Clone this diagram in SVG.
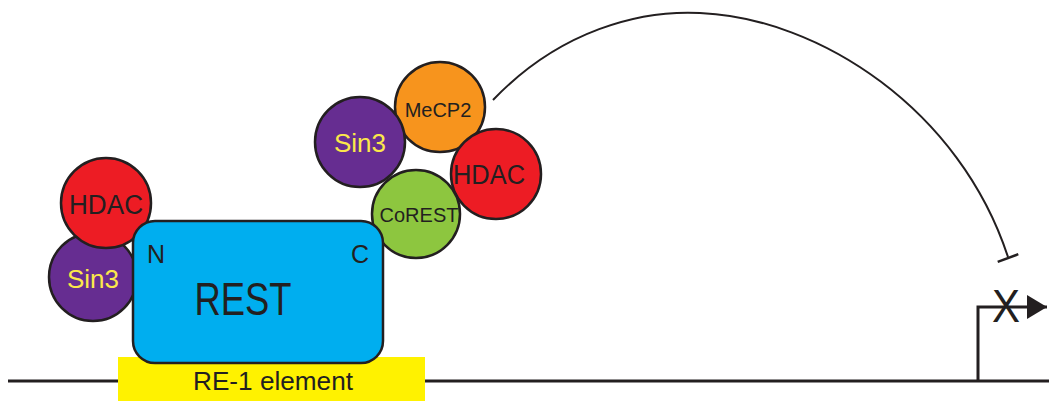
<svg xmlns="http://www.w3.org/2000/svg" width="1049" height="401" viewBox="0 0 1049 401">
<defs>
<style>
.o{stroke:#231F20;stroke-width:2.5}
.t{font-family:"Liberation Sans",Arial,sans-serif;text-anchor:middle;fill:#231F20}
.y{fill:#FBE84A}
.ln{fill:none;stroke:#231F20;stroke-width:3}
</style>
<marker id="ah" viewBox="0 0 20 24" refX="20" refY="12" markerWidth="20" markerHeight="24" markerUnits="userSpaceOnUse" orient="auto">
<path d="M0,0 L20,12 L0,24 Z" fill="#231F20"/>
</marker>
</defs>
<rect width="1049" height="401" fill="#ffffff"/>
<g id="connectors">
<line class="ln" x1="8" y1="381" x2="1049" y2="381"/>
<path class="ln" d="M978,381 L978,307 L1047,307" marker-end="url(#ah)"/>
<path d="M493,100 C560,30 640,10 700,13 C820,18 960,110 1008,257" fill="none" stroke="#231F20" stroke-width="2"/>
<line x1="997.7" y1="261.8" x2="1018.3" y2="254.2" stroke="#231F20" stroke-width="2.5"/>
</g>
<g id="re1">
<rect x="118" y="357" width="307" height="44" fill="#FFF200"/>
<text class="t" x="273" y="390" font-size="25" textLength="160" lengthAdjust="spacingAndGlyphs">RE-1 element</text>
</g>
<g id="mecp2">
<circle class="o" cx="440" cy="107" r="45" fill="#F7941D"/>
<text class="t" x="438" y="117" font-size="20">MeCP2</text>
</g>
<g id="sin3-top">
<circle class="o" cx="360" cy="142" r="45" fill="#662D91"/>
<text class="t y" x="360" y="152" font-size="26">Sin3</text>
</g>
<g id="hdac-right">
<circle class="o" cx="496" cy="174" r="45" fill="#ED1C24"/>
<text class="t" x="489" y="184" font-size="27" textLength="72" lengthAdjust="spacingAndGlyphs">HDAC</text>
</g>
<g id="corest">
<circle class="o" cx="416" cy="214" r="44" fill="#8DC63F"/>
<text class="t" x="419" y="222" font-size="20">CoREST</text>
</g>
<g id="sin3-left">
<circle class="o" cx="93" cy="277" r="44" fill="#662D91"/>
<text class="t y" x="93" y="288" font-size="26">Sin3</text>
</g>
<g id="hdac-left">
<circle class="o" cx="106" cy="203" r="45" fill="#ED1C24"/>
<text class="t" x="106" y="214" font-size="27" textLength="74" lengthAdjust="spacingAndGlyphs">HDAC</text>
</g>
<g id="rest">
<rect class="o" x="133" y="221" width="250" height="142" rx="22" fill="#00AEEF"/>
<text class="t" x="156" y="263" font-size="25">N</text>
<text class="t" x="360" y="263" font-size="25">C</text>
<text class="t" x="243" y="315" font-size="46" textLength="97" lengthAdjust="spacingAndGlyphs">REST</text>
</g>
<g id="promoter-block">
<text class="t" x="1006" y="322" font-size="46" textLength="28" lengthAdjust="spacingAndGlyphs">X</text>
</g>
</svg>
